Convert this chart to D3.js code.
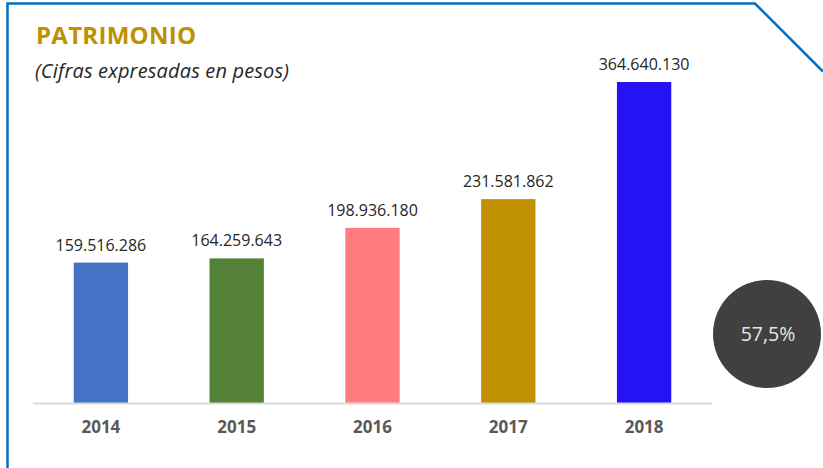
<!DOCTYPE html>
<html>
<head>
<meta charset="utf-8">
<script src="https://cdn.jsdelivr.net/npm/d3@7"></script>
<style>
  html, body { margin: 0; padding: 0; background: #fff; }
  svg { display: block; font-family: "Open Sans", sans-serif; }
</style>
</head>
<body>
<div id="chart"></div>
<script>
const years = ["2014", "2015", "2016", "2017", "2018"];
const patrimonio = [159516286, 164259643, 198936180, 231581862, 364640130];
const barColors = ["#4472C4", "#538135", "#FF7C80", "#BF9000", "#2414F4"];
const growthLabel = "57,5%";

const W = 823, H = 468;
const fmt = v => d3.format(",")(v).replace(/,/g, ".");

const svg = d3.select("#chart").append("svg")
  .attr("width", W)
  .attr("height", H);

// marco azul con esquina cortada
svg.append("path")
  .attr("d", "M7.5,468 L7.5,3.5 L755,3.5 L823,71.5")
  .attr("fill", "none")
  .attr("stroke", "#0070C0")
  .attr("stroke-width", 2.5);

svg.append("text")
  .attr("x", 36).attr("y", 44)
  .attr("fill", "#BF9000")
  .attr("font-size", "24px")
  .attr("font-weight", "bold")
  .attr("textLength", 160)
  .text("PATRIMONIO");

svg.append("text")
  .attr("x", 35).attr("y", 78)
  .attr("fill", "#262626")
  .attr("font-size", "20px")
  .attr("font-style", "italic")
  .attr("textLength", 254)
  .text("(Cifras expresadas en pesos)");

const baseY = 403;
const x = d3.scaleBand().domain(years).range([33, 712]).paddingInner(0.6).paddingOuter(0.3);
const y = d3.scaleLinear().domain([0, d3.max(patrimonio)]).range([baseY, 82]);

svg.selectAll(".bar")
  .data(patrimonio)
  .enter()
  .append("rect")
  .attr("class", "bar")
  .attr("x", (d, i) => x(years[i]))
  .attr("y", d => y(d))
  .attr("width", x.bandwidth())
  .attr("height", d => baseY - y(d))
  .attr("fill", (d, i) => barColors[i]);

svg.selectAll(".val")
  .data(patrimonio)
  .enter()
  .append("text")
  .attr("class", "val")
  .attr("x", (d, i) => x(years[i]) + x.bandwidth() / 2)
  .attr("y", d => y(d) - 12)
  .attr("text-anchor", "middle")
  .attr("fill", "#262626")
  .attr("font-size", "16px")
  .text(d => fmt(d));

const axis = svg.append("g")
  .attr("transform", `translate(0,${baseY})`)
  .call(d3.axisBottom(x).tickSize(0).tickPadding(18));
axis.select(".domain").attr("stroke", "#D9D9D9").attr("stroke-width", 2);
axis.selectAll("text")
  .attr("fill", "#595959")
  .attr("font-size", "17px")
  .attr("font-weight", "bold")
  .attr("font-family", "Open Sans, sans-serif");

// burbuja de crecimiento
svg.append("circle")
  .attr("cx", 767).attr("cy", 334).attr("r", 54)
  .attr("fill", "#404040");
svg.append("text")
  .attr("x", 768).attr("y", 341)
  .attr("text-anchor", "middle")
  .attr("fill", "#E6E6E6")
  .attr("font-size", "19.5px")
  .text(growthLabel);
</script>
</body>
</html>
